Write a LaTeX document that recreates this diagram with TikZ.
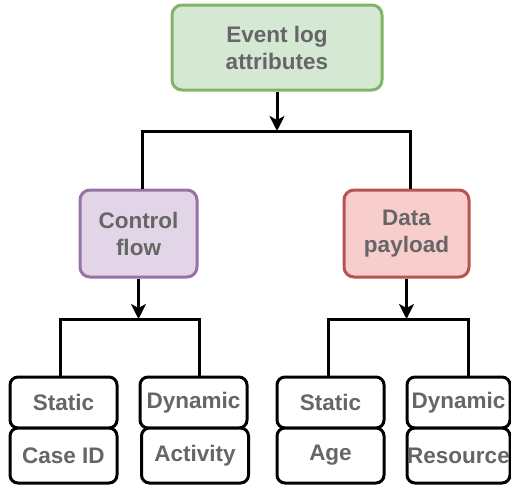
\documentclass[tikz,border=0pt]{standalone}
\usepackage{fontspec}
\setmainfont{Liberation Sans}
\usetikzlibrary{arrows.meta, positioning, calc}
\definecolor{txtgray}{HTML}{666666}
\definecolor{greenfill}{HTML}{D5E8D4}
\definecolor{greendraw}{HTML}{82B366}
\definecolor{purplefill}{HTML}{E1D5E7}
\definecolor{purpledraw}{HTML}{9673A6}
\definecolor{redfill}{HTML}{F8CECC}
\definecolor{reddraw}{HTML}{B85450}

\begin{document}
\begin{tikzpicture}[
    x=1pt, y=-1pt,
    % --- BASE STYLES ---
    box/.style={rectangle, rounded corners=10pt, inner sep=0pt, align=center, font=\fontsize{22.5}{27}\selectfont\bfseries, text=txtgray, line width=3pt},
    leaf/.style={box, draw=black, fill=white, rounded corners=8pt, minimum width=107pt, outer sep=0pt},
    line/.style={draw=black, line width=3pt},
    arrow/.style={line, -{Stealth[length=15pt, width=15pt, inset=4pt]}},
    % --- COLOUR PER LEVEL ---
    rootnode/.style={box, fill=greenfill, draw=greendraw, minimum width=210pt, minimum height=85pt},
    flownode/.style={box, fill=purplefill, draw=purpledraw, minimum width=117pt, minimum height=87pt},
    datanode/.style={box, fill=redfill, draw=reddraw, minimum width=125pt, minimum height=87pt}
]
\useasboundingbox (0,0) rectangle (511,485);

% ==========================================
% ROOT
% ==========================================
\node[rootnode] (elog) at (277,47.5) {Event log\\attributes};

% ==========================================
% SECOND LEVEL
% ==========================================
\node[flownode] (ctrl) at (138.5,233.5) {Control\\flow};
\node[datanode] (data) at (406.5,233.5) {Data\\payload};

\coordinate (top_bus) at (277,131);
\draw[arrow] (elog.south) -- (top_bus);
\draw[line] ([xshift=3.5pt]ctrl.north) |- (top_bus) -| ([xshift=3.5pt]data.north);

% ==========================================
% LEAVES (CONTROL FLOW)
% ==========================================
\node[leaf, minimum height=51pt] (static1) at (63.5,402.5) {Static};
\node[leaf, minimum height=55pt, below=0pt of static1] (caseid) {Case ID};
\node[leaf, minimum height=51pt] (dyn1) at (193.5,402.5) {Dynamic};
\node[leaf, minimum height=55pt, below=0pt of dyn1, xshift=1.5pt] (activity) {Activity};

\coordinate (cf_bus) at (138.5,319);
\draw[arrow] (ctrl.south) -- (cf_bus);
\draw[line] ([xshift=-3.5pt]static1.north) |- (cf_bus) -| ([xshift=5.5pt]dyn1.north);

% ==========================================
% LEAVES (DATA PAYLOAD)
% ==========================================
\node[leaf, minimum height=51pt] (static2) at (330.5,402.5) {Static};
\node[leaf, minimum height=55pt, below=0pt of static2] (age) {Age};
\node[leaf, minimum height=51pt, minimum width=103pt] (dyn2) at (458.5,402.5) {Dynamic};
\node[leaf, minimum height=55pt, minimum width=103pt, below=0pt of dyn2] (resource) {Resource};

\coordinate (dp_bus) at (406.5,319);
\draw[arrow] (data.south) -- (dp_bus);
\draw[line] ([xshift=-2.5pt]static2.north) |- (dp_bus) -| ([xshift=9.5pt]dyn2.north);

\end{tikzpicture}
\end{document}
